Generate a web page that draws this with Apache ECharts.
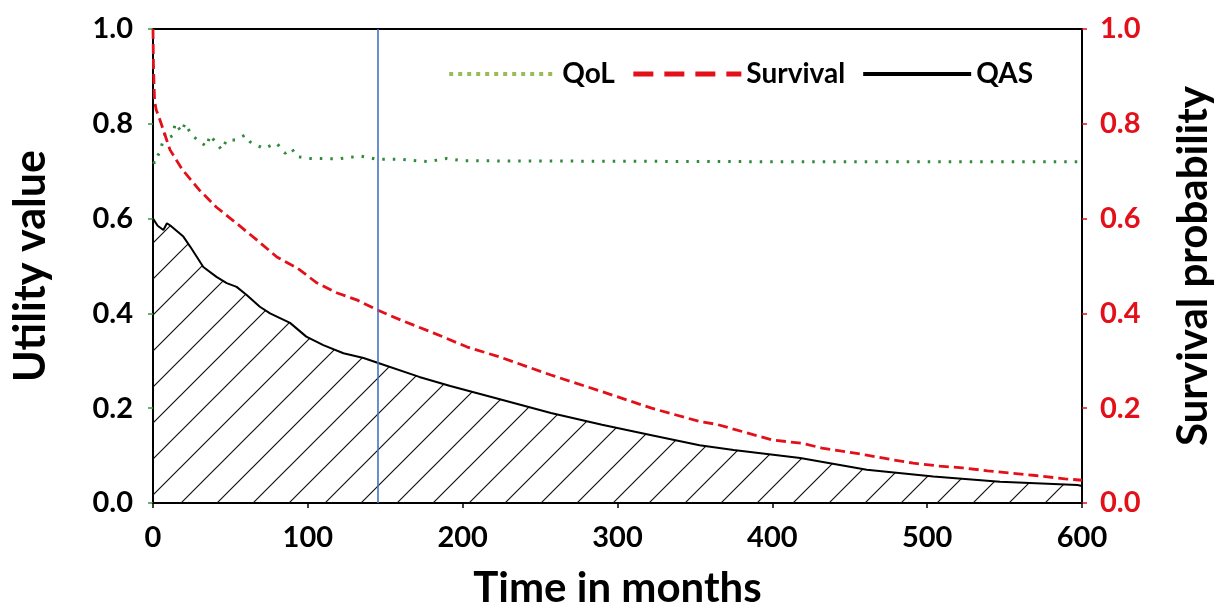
<!DOCTYPE html>
<html>
<head>
<meta charset="utf-8">
<script src="https://cdn.jsdelivr.net/npm/echarts@6/dist/echarts.min.js"></script>
<style>
html,body{margin:0;padding:0;background:#fff;}
#chart{width:1220px;height:610px;}
</style>
</head>
<body>
<div id="chart"></div>
<script>
// ---- data ----
const xTicks = [0, 100, 200, 300, 400, 500, 600];
const yTicks = [0.0, 0.2, 0.4, 0.6, 0.8, 1.0];
const markerMonth = 145;

const qolT = [0, 1.3, 3.3, 4.5, 7.8, 10, 13.1, 14.2, 18.5, 20.7, 25, 30.4, 34.7, 36.8, 44.4, 47.6, 53, 59.4, 62.7, 71.3, 79.9, 85.3, 89.6, 92.8, 100, 120, 133.7, 145, 160, 177.8, 189.7, 200, 300, 400, 500, 600];
const qolV = [0.72, 0.717, 0.734, 0.741, 0.78, 0.77, 0.776, 0.801, 0.783, 0.801, 0.776, 0.762, 0.752, 0.776, 0.745, 0.766, 0.766, 0.776, 0.762, 0.748, 0.759, 0.738, 0.748, 0.731, 0.727, 0.726, 0.732, 0.725, 0.725, 0.720, 0.727, 0.722, 0.721, 0.72, 0.72, 0.72];

const survT = [0, 0.3, 1, 2, 4.5, 11, 19, 30, 41, 54, 67, 80, 93, 106, 119, 132, 145, 160, 181, 203, 224, 257, 290, 322, 353, 364, 400, 419, 432, 448, 461, 478, 491, 508, 523, 539, 554, 570, 589, 600];
const survV = [1.0, 0.92, 0.85, 0.83, 0.808, 0.745, 0.703, 0.66, 0.624, 0.59, 0.555, 0.519, 0.496, 0.464, 0.443, 0.428, 0.407, 0.386, 0.359, 0.329, 0.308, 0.27, 0.235, 0.2, 0.172, 0.166, 0.133, 0.126, 0.116, 0.108, 0.101, 0.091, 0.084, 0.078, 0.074, 0.068, 0.063, 0.058, 0.051, 0.048];

const qasT = [0, 3, 6.7, 9, 11, 15, 19.6, 24, 32.5, 41, 47.6, 54, 60.5, 69, 75.6, 88.5, 99, 110, 123, 136, 145, 172, 192, 224, 257, 290, 322, 353, 375, 418, 461, 504, 547, 597, 600];
const qasV = [0.60, 0.585, 0.576, 0.59, 0.586, 0.575, 0.562, 0.541, 0.498, 0.477, 0.464, 0.456, 0.439, 0.414, 0.40, 0.38, 0.351, 0.333, 0.316, 0.306, 0.296, 0.266, 0.247, 0.219, 0.19, 0.165, 0.143, 0.122, 0.112, 0.095, 0.07, 0.056, 0.045, 0.038, 0.036];

const seriesNames = ['QoL', 'Survival', 'QAS'];

// ---- build ----
const pairs = (t, v) => t.map((x, i) => [x, v[i]]);

function hatch() {
  const s = 36;
  const c = document.createElement('canvas');
  c.width = s; c.height = s;
  const g = c.getContext('2d');
  g.strokeStyle = '#111';
  g.lineWidth = 1.2;
  g.beginPath();
  g.moveTo(-2, s + 2); g.lineTo(s + 2, -2);
  g.moveTo(-2 - s, s + 2); g.lineTo(2, -2);
  g.moveTo(s - 2, s + 2); g.lineTo(2 * s + 2, -2);
  g.stroke();
  return c;
}

const FONT = 'Lato';
const red = '#E3101A';
const noSymbol = {color: 'rgba(0,0,0,0)', borderWidth: 0, opacity: 0};

const chart = echarts.init(document.getElementById('chart'), null, {renderer: 'canvas'});
chart.setOption({
  animation: false,
  backgroundColor: '#fff',
  grid: {left: 153, right: 138, top: 29, bottom: 107, show: true, borderColor: '#000', borderWidth: 2, backgroundColor: 'transparent', containLabel: false, outerBoundsMode: 'none'},
  legend: {
    right: 182, top: 55,
    itemWidth: 108, itemHeight: 14, itemGap: 16,
    textStyle: {fontSize: 28, fontWeight: 'bold', fontFamily: FONT, color: '#000'},
    data: [
      {name: seriesNames[0], lineStyle: {width: 4, type: [4, 5], color: '#9BBB59'}, itemStyle: noSymbol},
      {name: seriesNames[1], lineStyle: {width: 5, type: [20, 11], color: red}, itemStyle: noSymbol},
      {name: seriesNames[2], lineStyle: {width: 4, type: 'solid', color: '#000'}, itemStyle: noSymbol}
    ]
  },
  xAxis: {
    type: 'value', min: xTicks[0], max: xTicks[xTicks.length - 1], interval: 100,
    axisLine: {show: true, lineStyle: {color: '#000', width: 2}},
    axisTick: {show: true, length: 5, lineStyle: {color: '#000', width: 1.5}},
    splitLine: {show: false},
    axisLabel: {fontSize: 29, fontWeight: 'bold', fontFamily: FONT, color: '#000', margin: 20},
    name: 'Time in months', nameLocation: 'middle', nameGap: 64,
    nameTextStyle: {fontSize: 42, fontWeight: 'bold', fontFamily: FONT, color: '#000'}
  },
  yAxis: [
    {
      type: 'value', min: yTicks[0], max: yTicks[yTicks.length - 1], interval: 0.2, position: 'left',
      axisLine: {show: true, lineStyle: {color: '#000', width: 2}},
      axisTick: {show: true, length: 5, lineStyle: {color: '#3a9a3a', width: 1.5}},
      splitLine: {show: false},
      axisLabel: {fontSize: 29, fontWeight: 'bold', fontFamily: FONT, color: '#000', margin: 20, formatter: v => v.toFixed(1)},
      name: 'Utility value', nameLocation: 'middle', nameGap: 100,
      nameTextStyle: {fontSize: 43, fontWeight: 'bold', fontFamily: FONT, color: '#000'}
    },
    {
      type: 'value', min: yTicks[0], max: yTicks[yTicks.length - 1], interval: 0.2, position: 'right',
      axisLine: {show: true, lineStyle: {color: '#000', width: 2}},
      axisTick: {show: true, length: 5, lineStyle: {color: red, width: 1.5}},
      splitLine: {show: false},
      axisLabel: {fontSize: 29, fontWeight: 'bold', fontFamily: FONT, color: red, margin: 18, formatter: v => v.toFixed(1)},
      name: 'Survival probability', nameLocation: 'middle', nameGap: 90,
      nameTextStyle: {fontSize: 42, fontWeight: 'bold', fontFamily: FONT, color: '#000'}
    }
  ],
  series: [
    {
      name: seriesNames[0], type: 'line', yAxisIndex: 0, symbol: 'none', z: 4,
      data: pairs(qolT, qolV),
      lineStyle: {color: '#2f8a3a', width: 3, type: [2.5, 8]},
      itemStyle: {color: '#9BBB59'}
    },
    {
      name: seriesNames[1], type: 'line', yAxisIndex: 1, symbol: 'none', z: 4,
      data: pairs(survT, survV),
      lineStyle: {color: red, width: 2.8, type: [10, 5]},
      itemStyle: {color: red}
    },
    {
      name: seriesNames[2], type: 'line', yAxisIndex: 0, symbol: 'none', z: 3,
      data: pairs(qasT, qasV),
      lineStyle: {color: '#000', width: 2},
      itemStyle: {color: '#000'},
      areaStyle: {color: {image: hatch(), repeat: 'repeat'}, opacity: 1},
      markLine: {
        silent: true, symbol: 'none', label: {show: false},
        lineStyle: {color: '#4472C4', width: 1.6, type: 'solid'},
        data: [{xAxis: markerMonth}]
      }
    }
  ]
});
</script>
</body>
</html>
